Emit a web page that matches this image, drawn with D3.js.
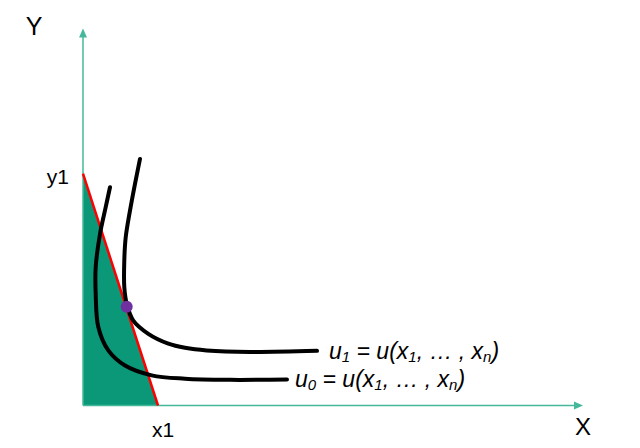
<!DOCTYPE html>
<html lang="en">
<head>
    <meta charset="UTF-8">
    <title>Indifference Curves and Budget Line</title>
    <style>
        body {
            margin: 0;
            padding: 0;
            background-color: #ffffff;
            font-family: "Liberation Sans", Arial, sans-serif;
        }
        .axis-line {
            stroke: #44b89a;
            stroke-width: 1.5;
        }
        .curve {
            fill: none;
            stroke: #000000;
            stroke-width: 4;
            stroke-linecap: round;
        }
        .budget {
            stroke: #ff0000;
            stroke-width: 2.5;
        }
        .eq-label {
            font-style: italic;
            font-size: 23px;
            fill: #000000;
        }
    </style>
</head>
<body>
    <div id="chart"></div>

    <script src="https://cdnjs.cloudflare.com/ajax/libs/d3/7.8.5/d3.min.js"></script>
    <script>
        // Budget line intercepts (y1 on Y, x1 on X)
        const budgetPoints = [[0, 61.5], [15, 0]];
        const budgetLabels = ['y1', 'x1'];

        // Indifference curve u1 (outer one, touches the budget line)
        const u1Points = [
            [11.4, 65.4], [10.4, 58.8], [9.4, 51.7], [8.54, 44.6], [8.26, 38.5],
            [8.26, 31.4], [8.74, 27.0], [10.06, 22.5], [13.06, 19.0], [17.06, 16.4],
            [20.4, 15.3], [24.74, 14.6], [33.4, 14.2], [46.8, 14.5]
        ];

        // Indifference curve u0 (inner one)
        const u0Points = [
            [5.4, 57.9], [4.54, 52.6], [3.4, 45.5], [2.54, 36.7], [2.54, 29.6],
            [3.06, 20.8], [5.06, 14.6], [8.4, 10.6], [13.74, 8.0], [20.4, 7.1],
            [29.4, 6.8], [40.8, 6.9]
        ];

        // Tangency point
        const optimum = [8.74, 26.2];

        const axisNames = ['X', 'Y'];

        const width = 640;
        const height = 448;

        const svg = d3.select('#chart')
            .append('svg')
            .attr('width', width)
            .attr('height', height);

        const x = d3.scaleLinear().domain([0, 100]).range([83, 583]);
        const y = d3.scaleLinear().domain([0, 100]).range([405.5, 28.5]);

        const line = d3.line()
            .x(d => x(d[0]))
            .y(d => y(d[1]));

        const smooth = d3.line()
            .x(d => x(d[0]))
            .y(d => y(d[1]))
            .curve(d3.curveCatmullRom.alpha(0.5));

        // Shaded budget set
        svg.append('path')
            .attr('d', line([[0, 0], budgetPoints[0], budgetPoints[1]]) + 'Z')
            .attr('fill', '#0a9878');

        // Axes with arrow heads
        const [x0, x1] = x.range();
        const [y0, y1] = y.range();
        svg.append('line')
            .attr('class', 'axis-line')
            .attr('x1', x0).attr('y1', y0)
            .attr('x2', x1 - 6).attr('y2', y0);
        svg.append('path')
            .attr('d', `M${x1},${y0} L${x1 - 9},${y0 - 4} L${x1 - 9},${y0 + 4} Z`)
            .attr('fill', '#44b89a');
        svg.append('line')
            .attr('class', 'axis-line')
            .attr('x1', x0).attr('y1', y0)
            .attr('x2', x0).attr('y2', y1 + 6);
        svg.append('path')
            .attr('d', `M${x0},${y1} L${x0 - 4},${y1 + 9} L${x0 + 4},${y1 + 9} Z`)
            .attr('fill', '#44b89a');

        // Axis names
        svg.append('text')
            .attr('x', 34).attr('y', 35)
            .attr('text-anchor', 'middle')
            .attr('font-size', 25)
            .text(axisNames[1]);
        svg.append('text')
            .attr('x', 583).attr('y', 435)
            .attr('text-anchor', 'middle')
            .attr('font-size', 24)
            .text(axisNames[0]);

        // Budget line
        svg.append('line')
            .attr('class', 'budget')
            .attr('x1', x(budgetPoints[0][0])).attr('y1', y(budgetPoints[0][1]))
            .attr('x2', x(budgetPoints[1][0])).attr('y2', y(budgetPoints[1][1]));

        // Intercept labels
        svg.append('text')
            .attr('x', x(0) - 14).attr('y', y(budgetPoints[0][1]) + 10)
            .attr('text-anchor', 'end')
            .attr('font-size', 21)
            .text(budgetLabels[0]);
        svg.append('text')
            .attr('x', x(budgetPoints[1][0]) + 5).attr('y', 437)
            .attr('text-anchor', 'middle')
            .attr('font-size', 21)
            .text(budgetLabels[1]);

        // Indifference curves
        svg.append('path').attr('class', 'curve').attr('d', smooth(u0Points));
        svg.append('path').attr('class', 'curve').attr('d', smooth(u1Points));

        // Optimum point
        svg.append('circle')
            .attr('cx', x(optimum[0]))
            .attr('cy', y(optimum[1]))
            .attr('r', 6)
            .attr('fill', '#7030a0');

        // Curve labels, u = u(x1, ..., xn)
        function eqLabel(px, py, idx) {
            const t = svg.append('text')
                .attr('class', 'eq-label')
                .attr('x', px).attr('y', py);
            const parts = [
                ['u', 0], [idx, 1], [' = u(x', 0], ['1', 1],
                [',  … , x', 0], ['n', 1], [')', 0]
            ];
            let shift = 0;
            parts.forEach(([s, sub]) => {
                const target = sub ? 3 : 0;
                t.append('tspan')
                    .attr('dy', target - shift)
                    .attr('font-size', sub ? 15 : 23)
                    .text(s);
                shift = target;
            });
        }

        const last1 = u1Points[u1Points.length - 1];
        const last0 = u0Points[u0Points.length - 1];
        eqLabel(x(last1[0]) + 12, y(last1[1]) + 8, '1');
        eqLabel(x(last0[0]) + 8, y(last0[1]) + 8, '0');
    </script>
</body>
</html>
